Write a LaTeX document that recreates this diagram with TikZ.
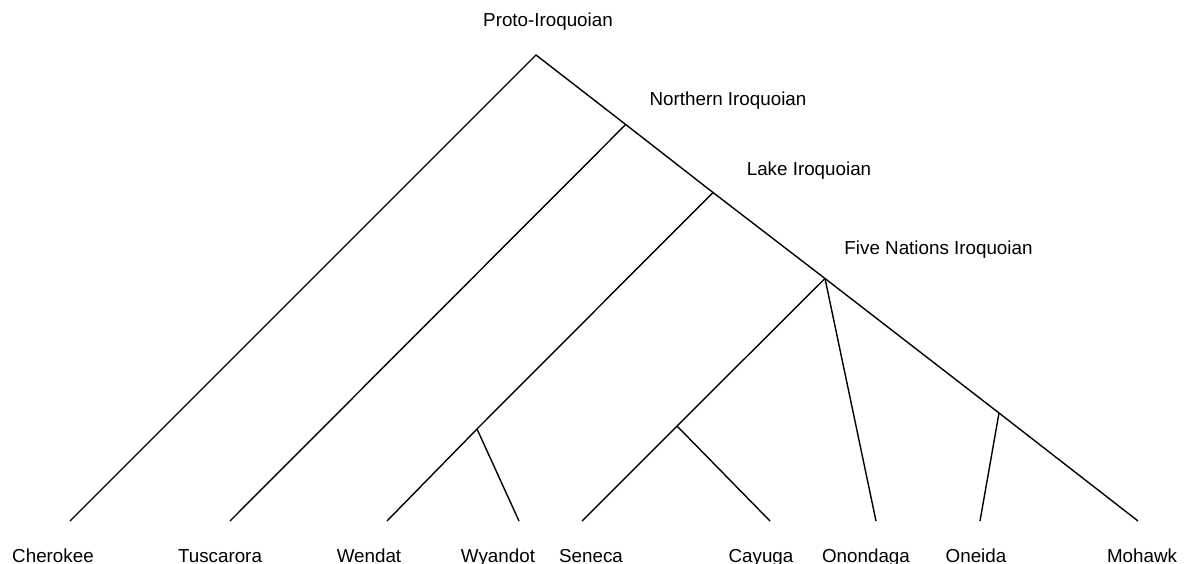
\documentclass[tikz,border=0pt]{standalone}
\usepackage{fontspec}
\setmainfont{Liberation Sans}
\begin{document}
\begin{tikzpicture}[x=1pt,y=-1pt,
  branch/.style={line width=1.4pt,line cap=butt},
  lbl/.style={inner sep=0pt,anchor=base,font=\fontsize{18.8}{22}\selectfont}]
\useasboundingbox (0,0) rectangle (1188,564);
% junctions
\coordinate (root) at (536,55);
\coordinate (north) at (625.7,124.5);
\coordinate (lake) at (713,192.5);
\coordinate (five) at (825,278.5);
\coordinate (wy) at (477,429);
\coordinate (sc) at (677,426);
\coordinate (om) at (999,413);
% leaves
\coordinate (cherokee) at (70,521);
\coordinate (tuscarora) at (230,521);
\coordinate (wendat) at (387,521);
\coordinate (wyandot) at (519,521);
\coordinate (seneca) at (582,521);
\coordinate (cayuga) at (770,521);
\coordinate (onondaga) at (876,521);
\coordinate (oneida) at (980,521);
\coordinate (mohawk) at (1138,521);
% edges
\draw[branch] (cherokee) -- (root) -- (north) -- (lake) -- (five) -- (om) -- (mohawk);
\draw[branch] (tuscarora) -- (north);
\draw[branch] (wendat) -- (wy) -- (lake);
\draw[branch] (wy) -- (wyandot);
\draw[branch] (seneca) -- (sc) -- (five);
\draw[branch] (sc) -- (cayuga);
\draw[branch] (five) -- (onondaga);
\draw[branch] (om) -- (oneida);
% labels
\node[lbl] (lroot) at (548,27) {Proto-Iroquoian};
\node[lbl] (lnorth) at (728,106) {Northern Iroquoian};
\node[lbl] (llake) at (809,176) {Lake Iroquoian};
\node[lbl] (lfive) at (938.5,254) {Five Nations Iroquoian};
\node[lbl] (tcherokee) at (53,562) {Cherokee};
\node[lbl] (ttuscarora) at (220,562) {Tuscarora};
\node[lbl] (twendat) at (369,562) {Wendat};
\node[lbl] (twyandot) at (498,562) {Wyandot};
\node[lbl] (tseneca) at (591,562) {Seneca};
\node[lbl] (tcayuga) at (761,562) {Cayuga};
\node[lbl] (tonondaga) at (866,562) {Onondaga};
\node[lbl] (toneida) at (976,562) {Oneida};
\node[lbl] (tmohawk) at (1142,562) {Mohawk};
\end{tikzpicture}
\end{document}
